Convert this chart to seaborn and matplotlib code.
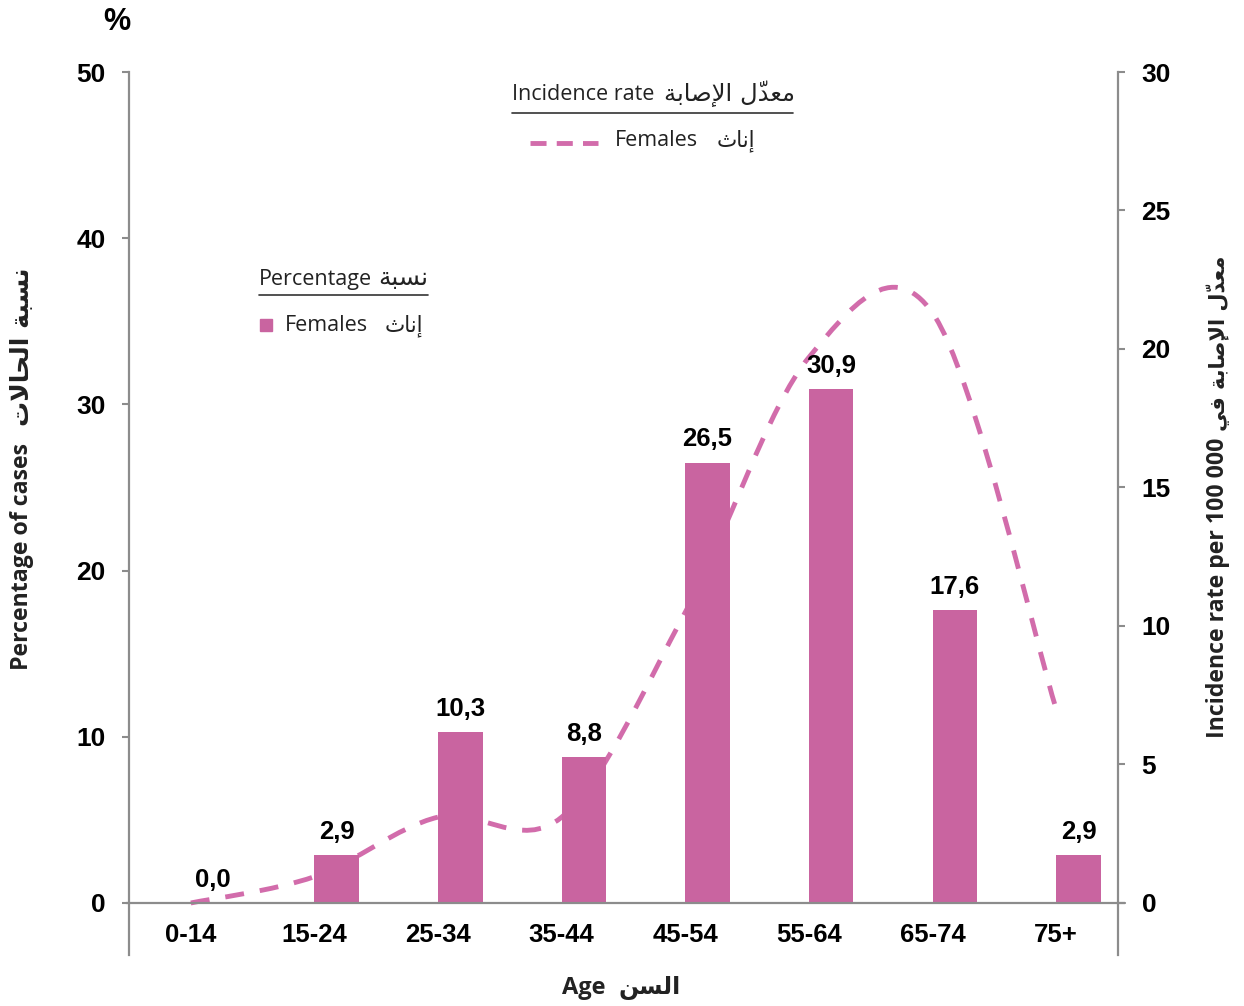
import matplotlib
matplotlib.use("Agg")
import matplotlib.pyplot as plt
from matplotlib.lines import Line2D
from matplotlib.path import Path
from matplotlib.patches import PathPatch
import pandas as pd
import seaborn as sns

# data
age_groups = ["0-14", "15-24", "25-34", "35-44", "45-54", "55-64", "65-74", "75+"]
pct_females = [0.0, 2.9, 10.3, 8.8, 26.5, 30.9, 17.6, 2.9]          # % of cases (left axis)
rate_females = [0.0, 0.95, 3.1, 3.1, 10.5, 19.7, 21.3, 7.0]          # per 100 000 (right axis)

BAR = "#C964A0"
LINE = "#D26CAB"
AXC = "#8C8C8C"
TXT = "#222222"
W, H = 1244, 1006

# --- tiny Arabic shaper: presentation forms + visual (reversed) order ---
# (isolated, final, initial, medial); two entries = joins to the right only
FORMS = {
    "ا": (0xFE8D, 0xFE8E), "إ": (0xFE87, 0xFE88), "ة": (0xFE93, 0xFE94),
    "د": (0xFEA9, 0xFEAA), "لا": (0xFEFB, 0xFEFC), "لإ": (0xFEF9, 0xFEFA),
    "ب": (0xFE8F, 0xFE90, 0xFE91, 0xFE92), "ت": (0xFE95, 0xFE96, 0xFE97, 0xFE98),
    "ث": (0xFE99, 0xFE9A, 0xFE9B, 0xFE9C), "ح": (0xFEA1, 0xFEA2, 0xFEA3, 0xFEA4),
    "س": (0xFEB1, 0xFEB2, 0xFEB3, 0xFEB4), "ص": (0xFEB9, 0xFEBA, 0xFEBB, 0xFEBC),
    "ع": (0xFEC9, 0xFECA, 0xFECB, 0xFECC), "ف": (0xFED1, 0xFED2, 0xFED3, 0xFED4),
    "ل": (0xFEDD, 0xFEDE, 0xFEDF, 0xFEE0), "م": (0xFEE1, 0xFEE2, 0xFEE3, 0xFEE4),
    "ن": (0xFEE5, 0xFEE6, 0xFEE7, 0xFEE8), "ي": (0xFEF1, 0xFEF2, 0xFEF3, 0xFEF4),
}


def ar(text):
    toks = []
    i = 0
    while i < len(text):
        c = text[i]
        if c == "\u0651" and toks:          # shadda sticks to its letter
            toks[-1][1] += c
            i += 1
            continue
        if c == "ل" and text[i + 1:i + 2] in ("ا", "إ"):
            c = text[i:i + 2]
            i += 1
        toks.append([c, ""])
        i += 1
    out = []
    for k, (c, m) in enumerate(toks):
        f = FORMS.get(c)
        if f is None:
            out.append(m + c)
            continue
        prev = toks[k - 1][0] if k else ""
        nxt = toks[k + 1][0] if k + 1 < len(toks) else ""
        jp = len(FORMS.get(prev, ())) == 4
        jn = len(f) == 4 and nxt in FORMS
        out.append(m + chr(f[int(jp) + 2 * int(jn)]))
    return "".join(out[::-1])


def smooth(xs, ys):
    # Excel-like smoothed line as cubic bezier segments
    n = len(xs)
    verts, codes = [(xs[0], ys[0])], [Path.MOVETO]
    for i in range(n - 1):
        a, b = max(i - 1, 0), min(i + 2, n - 1)
        verts += [(xs[i] + (xs[i + 1] - xs[a]) / 6, ys[i] + (ys[i + 1] - ys[a]) / 6),
                  (xs[i + 1] - (xs[b] - xs[i]) / 6, ys[i + 1] - (ys[b] - ys[i]) / 6),
                  (xs[i + 1], ys[i + 1])]
        codes += [Path.CURVE4] * 3
    return Path(verts, codes)


sns.set_theme(style="white")
plt.rcParams["font.family"] = ["Open Sans", "DejaVu Sans"]
ARIAL = ["Liberation Sans", "DejaVu Sans"]
ARAB = ["DejaVu Sans"]

fig = plt.figure(figsize=(W / 100, H / 100), dpi=100)
ax = fig.add_axes([129 / W, 51 / H, 989 / W, 883 / H])

df = pd.DataFrame({"age": age_groups, "pct": pct_females, "sex": "Females"})
sns.barplot(data=df, x="age", y="pct", hue="sex", hue_order=["Males", "Females"],
            palette={"Males": BAR, "Females": BAR}, width=0.72, dodge=True,
            saturation=1, linewidth=0, legend=False, ax=ax)

ax.set_ylim(-3.13, 50)
ax.set_yticks(range(0, 51, 10))
ax.set_xlabel("")
ax.set_ylabel("")
ax.bar_label(ax.containers[-1], labels=[f"{v:.1f}".replace(".", ",") for v in pct_females],
             padding=8, fontsize=18.5, fontweight="bold", family=ARIAL, color="black")

ax2 = ax.twinx()
ax2.set_ylim(-1.878, 30)
ax2.set_yticks(range(0, 31, 5))
ax2.add_patch(PathPatch(smooth(list(range(len(age_groups))), rate_females), fill=False,
                        edgecolor=LINE, lw=3.5, linestyle=(0, (3.9, 3.3)), capstyle="butt"))

ax.set_zorder(ax2.get_zorder() + 1)
ax.patch.set_visible(False)

for a, side in ((ax, "left"), (ax2, "right")):
    for s in a.spines.values():
        s.set_visible(False)
    a.spines[side].set_visible(True)
    a.spines[side].set_color(AXC)
    a.spines[side].set_linewidth(1.6)
    a.tick_params(axis="y", which="both", direction="out", length=5, width=1.5,
                  color=AXC, pad=12, labelsize=19, labelcolor="black",
                  left=(side == "left"), right=(side == "right"))
    for lbl in a.get_yticklabels():
        lbl.set_fontweight("bold")
        lbl.set_family(ARIAL)
ax2.tick_params(axis="y", labelright=True)

ax.axhline(0, xmin=-0.003, xmax=1.007, color=AXC, lw=1.6, clip_on=False, zorder=1)
ax.tick_params(axis="x", length=0, pad=-23, labelsize=18.5, labelcolor="black")
for lbl in ax.get_xticklabels():
    lbl.set_fontweight("bold")
    lbl.set_family(ARIAL)


def fx(x):
    return x / W


def fy(y):
    return 1 - y / H


# axis titles (English and Arabic parts placed side by side)
fig.text(fx(117), fy(22), "%", fontsize=22, fontweight="bold", family=ARIAL,
         ha="center", va="center", color="black")
fig.text(fx(22), fy(557), "Percentage of cases", rotation=90, fontsize=16.7, fontweight="bold",
         ha="center", va="center", color=TXT)
fig.text(fx(22), fy(347), ar("نسبة الحالات"), rotation=90, fontsize=18, fontweight="bold",
         family=ARAB, ha="center", va="center", color=TXT)
fig.text(fx(1218), fy(588), "Incidence rate per 100 000", rotation=90, fontsize=16.7,
         fontweight="bold", ha="center", va="center", color=TXT)
fig.text(fx(1218), fy(343), ar("معدّل الإصابة في"), rotation=90, fontsize=15,
         fontweight="bold", family=ARAB, ha="center", va="center", color=TXT)
fig.text(fx(605), fy(988), "Age", fontsize=17, fontweight="bold", ha="right", va="center",
         color=TXT)
fig.text(fx(650), fy(988), ar("السن"), fontsize=17, fontweight="bold", family=ARAB,
         ha="center", va="center", color=TXT)

# legends
fig.text(fx(512), fy(95), "Incidence rate", fontsize=15.5, ha="left", va="center", color=TXT)
fig.text(fx(795), fy(94), ar("معدّل الإصابة"), fontsize=17.5, family=ARAB, ha="right",
         va="center", color=TXT)
fig.add_artist(Line2D([fx(512), fx(793)], [fy(113), fy(113)], color="#333333", lw=1.2))
fig.add_artist(Line2D([fx(530), fx(598)], [fy(143), fy(143)], color=LINE, lw=3.5,
                      dashes=(3.3, 2.1)))
fig.text(fx(615), fy(140), "Females", fontsize=15.5, ha="left", va="center", color=TXT)
fig.text(fx(755), fy(141), ar("إناث"), fontsize=15.5, family=ARAB, ha="right", va="center",
         color=TXT)

fig.text(fx(259), fy(279), "Percentage", fontsize=15.5, ha="left", va="center", color=TXT)
fig.text(fx(428), fy(278), ar("نسبة"), fontsize=18, family=ARAB, ha="right", va="center",
         color=TXT)
fig.add_artist(Line2D([fx(259), fx(428)], [fy(295), fy(295)], color="#333333", lw=1.2))
fig.add_artist(Line2D([fx(266)], [fy(325)], marker="s", markersize=8.5, color=BAR, lw=0))
fig.text(fx(285), fy(325), "Females", fontsize=15.5, ha="left", va="center", color=TXT)
fig.text(fx(423), fy(326), ar("إناث"), fontsize=15.5, family=ARAB, ha="right", va="center",
         color=TXT)

fig.savefig("out.png", dpi=100)
